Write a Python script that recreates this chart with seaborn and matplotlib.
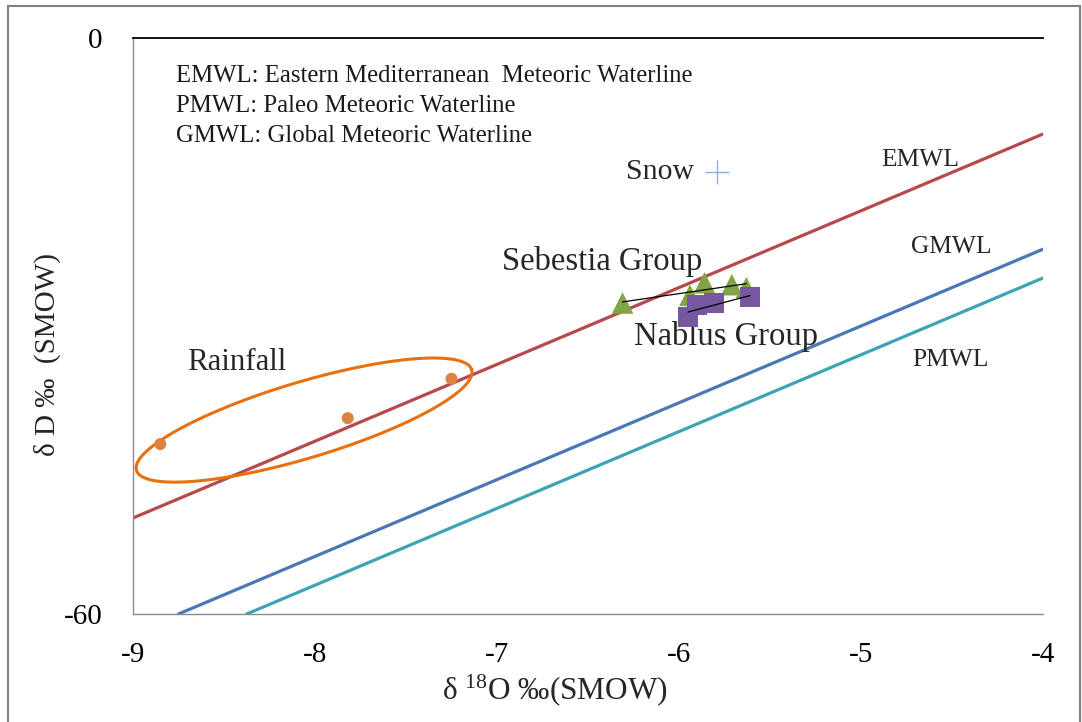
import numpy as np
import pandas as pd
import matplotlib
matplotlib.use("Agg")
import matplotlib.pyplot as plt
from matplotlib.patches import Rectangle
import seaborn as sns

# --- data -------------------------------------------------------------
# Meteoric water lines (end points, d18O vs dD)
emwl_x = [-9.0, -4.0]
emwl_y = [-50.0, -10.0]
gmwl_x = [-8.75, -4.0]
gmwl_y = [-60.0, -22.0]
pmwl_x = [-8.375, -4.0]
pmwl_y = [-60.0, -25.0]

# Rainfall samples
rain_o18 = [-8.85, -7.82, -7.25]
rain_dd = [-42.3, -39.6, -35.5]

# Snow sample
snow_o18 = [-5.79]
snow_dd = [-14.0]

# Sebestia group springs
seb_o18 = [-6.31, -5.94, -5.86, -5.71, -5.63]
seb_dd = [-27.6, -26.8, -25.5, -25.7, -26.0]

# Nablus group springs
nab_o18 = [-5.95, -5.90, -5.81, -5.61]
nab_dd = [-29.1, -27.8, -27.6, -27.0]

x_ticks = [-9, -8, -7, -6, -5, -4]
y_ticks = [-60, -30, 0]
y_ticklabels = ["-60", "", "0"]

legend_lines = [
    "EMWL: Eastern Mediterranean  Meteoric Waterline",
    "PMWL: Paleo Meteoric Waterline",
    "GMWL: Global Meteoric Waterline",
]

# --- style ------------------------------------------------------------
sns.set_theme(style="white")
plt.rcParams["font.family"] = ["Liberation Serif", "DejaVu Serif"]
plt.rcParams["mathtext.fontset"] = "custom"
plt.rcParams["mathtext.rm"] = "Liberation Serif"
plt.rcParams["mathtext.it"] = "Liberation Serif:italic"

fig = plt.figure(figsize=(10.82, 7.22), dpi=100)
ax = fig.add_axes([133 / 1082, 1 - 614 / 722, (1043 - 133) / 1082, (614 - 38) / 722])

# outer frame of the figure
fig.patches.append(Rectangle((8 / 1082, -0.05), (1080 - 8) / 1082, (716 / 722) + 0.05,
                             transform=fig.transFigure, fill=False,
                             edgecolor="#7f7f7f", linewidth=1.5, zorder=0))

# water lines
lw = 2.3
sns.lineplot(x=emwl_x, y=emwl_y, ax=ax, color="#B5494B", linewidth=lw, zorder=2)
sns.lineplot(x=gmwl_x, y=gmwl_y, ax=ax, color="#4A77B5", linewidth=lw, zorder=2)
sns.lineplot(x=pmwl_x, y=pmwl_y, ax=ax, color="#3DA3B6", linewidth=lw, zorder=2)

# rainfall points and enclosing ellipse
sns.scatterplot(x=rain_o18, y=rain_dd, ax=ax, color="#DE8240", s=75,
                edgecolor="none", zorder=4)
# ellipse defined in screen space, converted back to data units
ppx = 182.0  # pixels per permil d18O
ppy = 9.6    # pixels per permil dD
cx, cy = -8.06, -39.8
a_px, b_px, ang = 175.0, 38.0, np.deg2rad(16.7)
t = np.linspace(0, 2 * np.pi, 300)
ex_px = a_px * np.cos(t) * np.cos(ang) - b_px * np.sin(t) * np.sin(ang)
ey_px = a_px * np.cos(t) * np.sin(ang) + b_px * np.sin(t) * np.cos(ang)
ax.plot(cx + ex_px / ppx, cy + ey_px / ppy, color="#E8700F", linewidth=2.2, zorder=3)

# snow
sns.scatterplot(x=snow_o18, y=snow_dd, ax=ax, marker="+", color="#8FAEDC",
                s=300, linewidth=1.0, zorder=4)

# groups
sns.scatterplot(x=seb_o18, y=seb_dd, ax=ax, marker="^", color="#83A444", s=240,
                edgecolor="none", zorder=4)
sns.scatterplot(x=nab_o18, y=nab_dd, ax=ax, marker="s", color="#7558A0", s=210,
                edgecolor="none", zorder=5)
sns.regplot(x=np.array(seb_o18), y=np.array(seb_dd), ax=ax, scatter=False, ci=None,
            truncate=True, line_kws=dict(color="black", linewidth=0.9, zorder=6))
sns.regplot(x=np.array(nab_o18), y=np.array(nab_dd), ax=ax, scatter=False, ci=None,
            truncate=True, line_kws=dict(color="black", linewidth=0.9, zorder=6))

# --- axes ---------------------------------------------------------------
ax.set_xlim(-9, -4)
ax.set_ylim(-60, 0)
ax.set_xticks(x_ticks)
ax.set_xticklabels([str(v) for v in x_ticks])
ax.set_yticks(y_ticks)
ax.set_yticklabels(y_ticklabels)
ax.tick_params(axis="both", which="both", direction="out", length=8, width=1,
               color="#8c8c8c", labelsize=21, labelcolor="black")
ax.tick_params(axis="x", pad=12)
ax.tick_params(axis="y", pad=14)
ax.spines["right"].set_visible(False)
ax.spines["left"].set_color("#8c8c8c")
ax.spines["bottom"].set_color("#8c8c8c")
ax.spines["top"].set_color("black")
ax.spines["top"].set_linewidth(1.3)
for s in ("left", "bottom"):
    ax.spines[s].set_linewidth(1.0)

ax.set_xlabel(r"δ $^{18}$O ‰(SMOW)", fontsize=22.5)
ax.xaxis.set_label_coords((555 - 133) / 910, -(690 - 614) / 576, transform=ax.transAxes)
ax.xaxis.label.set_va("center")
ax.set_ylabel("δ D ‰  (SMOW)", fontsize=21)
ax.yaxis.set_label_coords(-(133 - 47) / 910, (614 - 355) / 576, transform=ax.transAxes)
ax.yaxis.label.set_va("center")

# --- annotations ----------------------------------------------------------
for i, line in enumerate(legend_lines):
    ax.text((176 - 133) / 910, 1 - (76 + 30 * i - 38) / 576, line,
            transform=ax.transAxes, fontsize=17.8, va="center", ha="left",
            color="#1a1a1a")
ax.text(-4.676, -12.7, "EMWL", fontsize=18.4, ha="center", va="center")
ax.text(-4.505, -21.8, "GMWL", fontsize=18.4, ha="center", va="center")
ax.text(-4.51, -33.5, "PMWL", fontsize=18.4, ha="center", va="center")
ax.text(-6.105, -14.0, "Snow", fontsize=21.5, ha="center", va="center")
ax.text(-6.42, -23.3, "Sebestia Group", fontsize=23.5, ha="center", va="center")
ax.text(-5.74, -31.1, "Nablus Group", fontsize=23.5, ha="center", va="center")
ax.text(-8.43, -33.75, "Rainfall", fontsize=22.2, ha="center", va="center")

fig.savefig("out.png", dpi=100)
